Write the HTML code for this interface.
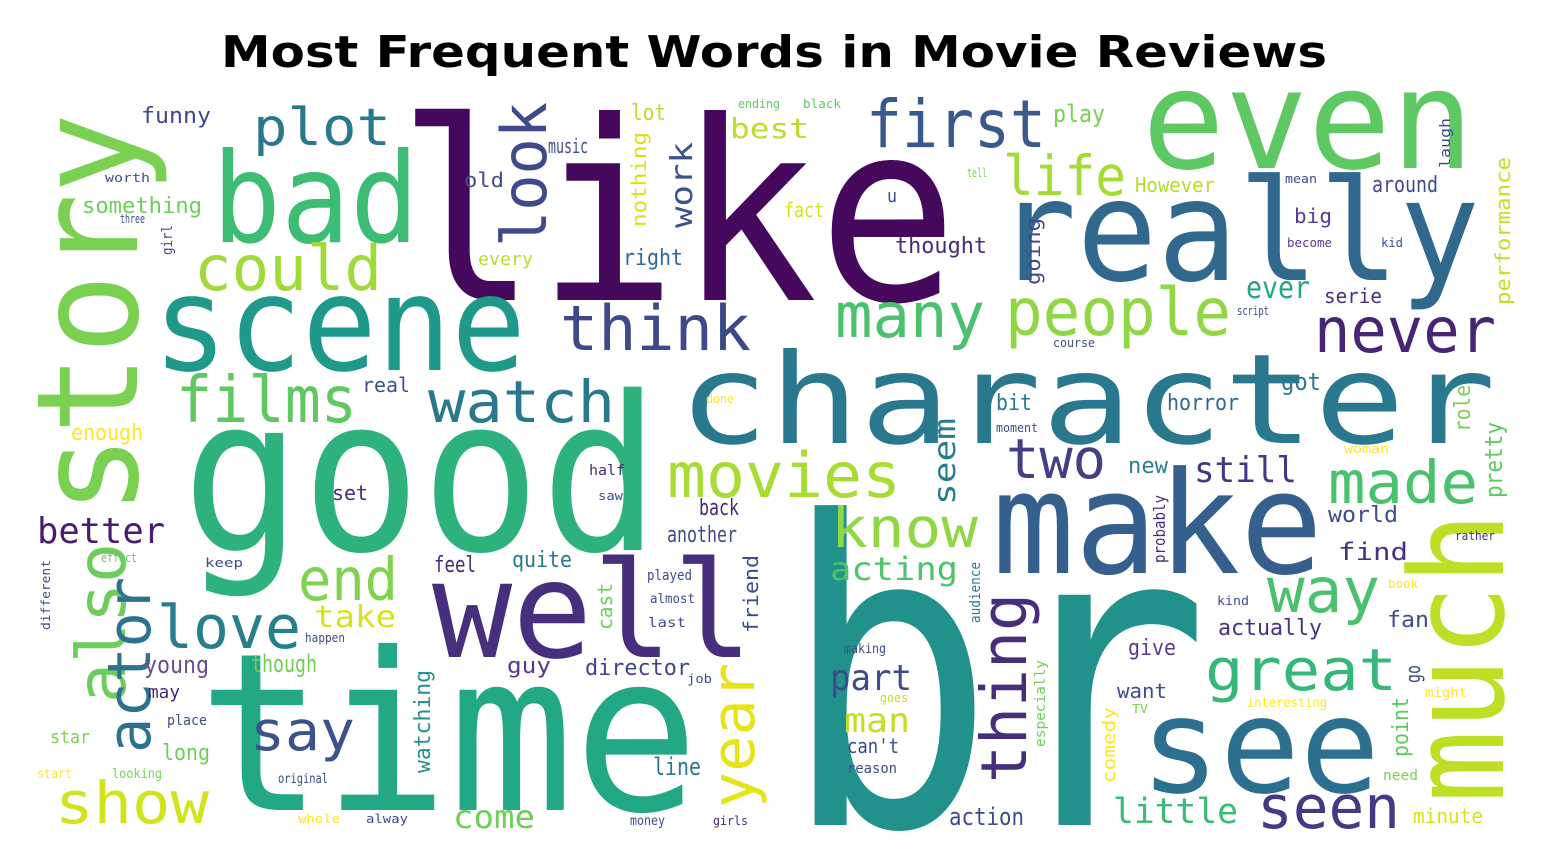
<!DOCTYPE html>
<html><head><meta charset="utf-8"><style>
html,body{margin:0;padding:0;background:#fff;width:1548px;height:867px;overflow:hidden;}
svg{display:block;}
</style></head><body>
<svg id="cloud" width="1548" height="867" viewBox="0 0 1548 867" xmlns="http://www.w3.org/2000/svg">
<rect width="1548" height="867" fill="#fff"/>
<text x="774" y="67" text-anchor="middle" font-family="DejaVu Sans, Liberation Sans, sans-serif" font-weight="bold" font-size="44" textLength="1106" lengthAdjust="spacingAndGlyphs" fill="#000">Most Frequent Words in Movie Reviews</text>
<g id="words"></g>
</svg>
<script>
const words = [
"like","br","good","time","character","really","even","make","see","well",
"scene","story","much","bad","plot","first","could","look","think","people",
"many","never","life","films","watch","movies","two","know","made","still",
"ever","acting","thing","great","way","year","seen","little","say","show",
"also","actor","end","love","take","better","seem","part","man","work",
"best","come","director","actually","find","world","new","got","horror","bit",
"serie","around","However","big","play","funny","something","enough","set","real",
"young","though","may","star","long","feel","quite","guy","back","another",
"line","can't","action","give","want","fan","minute","right","thought","fact",
"lot","music","old","every","nothing","cast","friend","watching","performance","going",
"role","pretty","point","go","probably","comedy","audience","especially","laugh","place",
"start","looking","original","whole","alway","happen","effect","keep","half","saw",
"played","almost","last","job","reason","making","goes","done","moment","money",
"girls","need","might","interesting","TV","kind","book","woman","rather","mean",
"tell","become","kid","script","course","u","ending","black","different","girl",
"worth","three"];
const sizes = [
250,421,215,220,125,141,138,142,132,134,
132,141,130,125,52,66,62,62,62,66,
62,62,55,64,58,62,55,55,59,36,
30,32,63,58,62,60,60,35,55,58,
68,60,59,60,30,36,30,36,34,30,
28,32,22,22,24,22,22,24,22,22,
20,22,20,20,24,22,22,22,20,20,
24,24,18,18,22,22,22,22,22,22,
24,20,24,22,20,22,20,22,22,20,
22,20,20,18,20,20,20,22,20,20,
22,24,22,20,16,18,14,14,14,14,
13,13,13,12,12,12,12,12,14,12,
14,13,13,12,14,13,12,12,12,13,
12,14,13,13,12,12,12,12,12,12,
12,12,12,12,12,18,12,12,12,14,
12,12];
const xs = [
397,781,182,198,678,996,1142,992,1140,432,
153,137,1503,212,253,866,194,546,560,1005,
835,1314,1003,176,428,667,1006,831,1328,1194,
1246,830,1026,1205,1267,754,1257,1113,250,55,
125,150,298,157,314,37,955,830,844,692,
730,453,585,1218,1338,1328,1128,1281,1167,996,
1324,1372,1135,1294,1053,141,82,71,332,362,
144,251,148,50,162,434,512,507,699,667,
653,847,949,1128,1117,1387,1413,623,895,784,
631,548,464,478,646,612,758,430,1510,1040,
1470,1502,1408,1420,1165,1115,980,1045,1450,167,
37,112,278,298,366,305,101,205,589,598,
647,650,648,687,847,844,880,706,996,630,
713,1383,1425,1247,1132,1217,1388,1344,1455,1285,
967,1287,1381,1237,1053,887,738,803,50,172,
105,120];
const ys = [
300,825,550,810,443,280,168,573,792,657,
370,515,803,242,145,147,290,247,350,335,
337,352,195,422,422,497,478,547,503,482,
298,580,783,690,612,808,828,823,750,823,
703,753,600,648,627,543,505,690,732,228,
138,828,675,635,560,522,473,390,410,410,
303,192,192,223,122,123,213,440,500,392,
673,672,698,743,760,572,567,673,515,542,
775,753,825,655,698,627,823,265,253,217,
120,153,187,265,227,630,633,773,305,285,
432,498,757,683,563,783,623,747,168,725,
778,778,783,823,823,642,562,567,475,500,
580,603,627,683,773,653,702,403,432,825,
825,780,697,707,713,605,588,453,540,183,
177,247,247,315,347,202,108,108,630,255,
182,223];
const lens = [
561,429,478,501,818,484,332,331,240,321,
373,402,291,207,138,180,188,145,191,226,
150,182,123,181,187,234,100,147,150,103,
64,128,190,192,113,145,143,125,105,154,
160,176,100,144,82,128,87,82,66,86,
79,82,105,104,70,70,40,40,72,36,
58,66,80,38,52,70,120,72,36,48,
65,66,32,40,48,42,60,44,40,70,
48,52,75,48,50,42,70,60,92,40,
35,40,40,55,95,47,78,103,148,67,
47,76,60,18,68,76,61,87,50,40,
35,50,50,42,42,40,36,38,36,25,
45,45,38,25,50,42,28,28,42,35,
35,35,42,80,16,32,30,45,40,32,
20,45,22,32,42,10,42,38,70,30,
45,25];
const colors = [
"#46085c","#21918c","#2db27d","#22a884","#2a788e","#31688e","#5ec962","#35608d","#2c6f8e","#472f7d",
"#1f9a8a","#7ad151","#bddf26","#3dbc74","#2a788e","#38598c","#a0da39","#3e4a89","#3e4989","#8fd744",
"#4ac16d","#482475","#a5db36","#5ec962","#2a788e","#a8db34","#433e85","#8fd744","#4ac16d","#453781",
"#22a785","#4ec36b","#472d7b","#35b779","#4ac16d","#e5e419","#443983","#3aba76","#3b528b","#d2e21b",
"#6ccd5a","#2c728e","#7fd34e","#277f8e","#d8e219","#481d6f","#287c8e","#3e4c8a","#c2df23","#3b528b",
"#bade28","#6ece58","#414487","#46327e","#46327e","#3e4c8a","#26828e","#2a788e","#31688e","#2a788e",
"#46327e","#3e4c8a","#b5de2b","#5b3a8e","#7ad151","#3e4989","#6ece58","#fde725","#472a7a","#3b528b",
"#6a4c93","#6ece58","#482878","#7ad151","#6ece58","#472a7a","#2a788e","#5b3a8e","#472a7a","#3e4c8a",
"#2a788e","#3e4c8a","#3e4c8a","#5b3a8e","#3e4c8a","#3e4c8a","#d8e219","#31688e","#472a7a","#d8e219",
"#b5de2b","#3e4c8a","#3e4c8a","#b5de2b","#d8e219","#6ece58","#3e4c8a","#21918c","#c2df23","#3e4c8a",
"#7ad151","#5ec962","#5ec962","#3e4c8a","#472a7a","#fde725","#2a788e","#6ece58","#3e4c8a","#3e4c8a",
"#fde725","#7ad151","#3e4c8a","#fde725","#3e4c8a","#3e4c8a","#5ec962","#3e4c8a","#472a7a","#3e4c8a",
"#3e4c8a","#3e4c8a","#3e4c8a","#3e4c8a","#3e4c8a","#3e4c8a","#c2df23","#fde725","#3e4c8a","#3e4c8a",
"#472a7a","#7ad151","#fde725","#fde725","#7ad151","#3e4c8a","#fde725","#fde725","#472a7a","#3e4c8a",
"#7ad151","#5b3a8e","#3e4c8a","#3e4c8a","#3e4c8a","#3e4c8a","#5ec962","#5ec962","#3e4c8a","#3e4c8a",
"#3e4c8a","#3e4c8a"];
const rots = [
0,0,0,0,0,0,0,0,0,0,
0,1,1,0,0,0,0,1,0,0,
0,0,0,0,0,0,0,0,0,0,
0,0,1,0,0,1,0,0,0,0,
1,1,0,0,0,0,1,0,0,1,
0,0,0,0,0,0,0,0,0,0,
0,0,0,0,0,0,0,0,0,0,
0,0,0,0,0,0,0,0,0,0,
0,0,0,0,0,0,0,0,0,0,
0,0,0,0,1,1,1,1,1,1,
1,1,1,1,1,1,1,1,1,0,
0,0,0,0,0,0,0,0,0,0,
0,0,0,0,0,0,0,0,0,0,
0,0,0,0,0,0,0,0,0,0,
0,0,0,0,0,0,0,0,1,1,
0,0];

const layer = document.getElementById('words');
const NS = 'http://www.w3.org/2000/svg';
for (let i = 0; i < words.length; i++) {
  const t = document.createElementNS(NS, 'text');
  
  
  t.setAttribute('font-family', 'DejaVu Sans Mono, Liberation Mono, monospace');
  t.setAttribute('font-size', sizes[i]);
  t.setAttribute('fill', colors[i]);
  t.setAttribute('textLength', lens[i]);
  t.setAttribute('lengthAdjust', 'spacingAndGlyphs');
  t.setAttribute('x', xs[i]);
  t.setAttribute('y', ys[i]);
  if (rots[i]) t.setAttribute('transform', 'rotate(-90 ' + xs[i] + ' ' + ys[i] + ')');
  t.textContent = words[i];
  layer.appendChild(t);
}
</script>
</body></html>
